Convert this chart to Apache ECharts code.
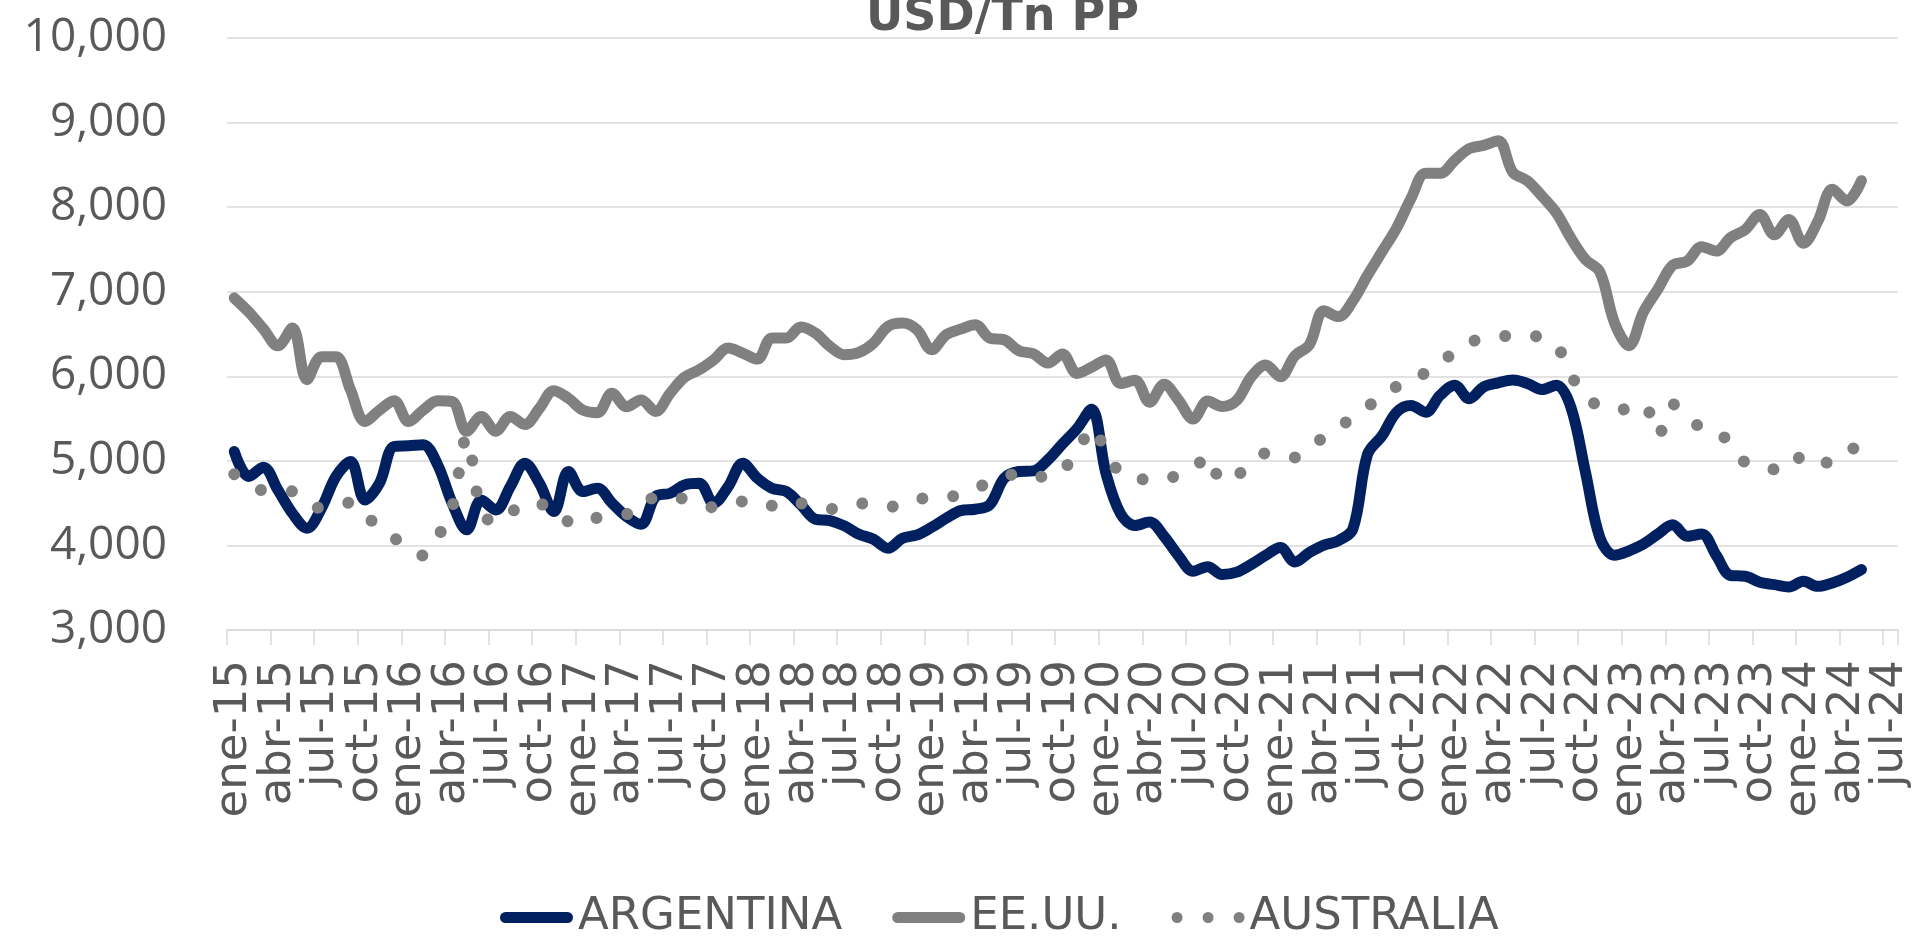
<!DOCTYPE html>
<html>
<head>
<meta charset="utf-8">
<script src="https://cdn.jsdelivr.net/npm/echarts@6/dist/echarts.min.js"></script>
<style>
html,body{margin:0;padding:0;background:#fff;}
#chart{width:1913px;height:936px;}
</style>
</head>
<body>
<div id="chart"></div>
<script>
// Month abbreviations and years used to build the category labels (ene-15 ... jul-24)
const MONTHS = ['ene','feb','mar','abr','may','jun','jul','ago','sep','oct','nov','dic'];
const YEARS = ['15','16','17','18','19','20','21','22','23','24'];
const LAST_MONTH_2024 = 7; // categories run through jul-24
const LABEL_EVERY = 3;      // a tick label every quarter

const categories = [];
YEARS.forEach(function (y, yi) {
  const n = (yi === YEARS.length - 1) ? LAST_MONTH_2024 : 12;
  for (let m = 0; m < n; m++) categories.push(MONTHS[m] + '-' + y);
});

// USD/Tn PP, monthly from ene-15 to may-24
const argentina = [
  5110,4815,4925,4657,4380,4203,4440,4815,4992,4538,4736,5170,
  5178,5190,4953,4500,4184,4538,4420,4696,4972,4736,4400,4874,
  4637,4676,4500,4341,4250,4578,4617,4716,4736,4500,4696,4972,
  4795,4677,4637,4480,4310,4294,4231,4132,4073,3966,4085,4124,
  4215,4321,4412,4428,4480,4795,4874,4882,5012,5200,5380,5610,
  4850,4376,4236,4276,4108,3876,3696,3748,3656,3684,3776,3884,
  3976,3804,3916,4004,4056,4196,5075,5295,5575,5655,5575,5775,
  5895,5735,5875,5923,5955,5915,5843,5895,5635,4870,4090,3884,
  3936,4016,4136,4244,4108,4136,3884,3644,3636,3564,3536,3508,
  3576,3516,3556,3624,3716
];
const eeuu = [
  6925,6760,6560,6360,6570,5960,6230,6230,5840,5465,5600,5710,
  5465,5600,5710,5700,5350,5525,5350,5525,5430,5620,5830,5740,
  5600,5570,5800,5640,5720,5584,5800,5990,6077,6195,6333,6274,
  6203,6452,6452,6582,6510,6353,6254,6282,6393,6590,6630,6550,
  6314,6491,6558,6610,6452,6432,6302,6266,6156,6264,6034,6106,
  6194,5914,5954,5694,5906,5715,5495,5707,5643,5715,5995,6134,
  5995,6242,6374,6774,6706,6894,7193,7473,7753,8105,8400,8400,
  8552,8692,8730,8784,8412,8313,8133,7933,7633,7381,7233,6634,
  6362,6762,7034,7313,7361,7533,7481,7641,7733,7913,7673,7853,
  7573,7833,8213,8073,8313
];
const australia = [
  4842,4740,4650,4645,4640,4540,4436,4470,4507,4330,4250,4090,
  3980,3880,4100,4450,5280,4400,4270,4380,4500,4490,4440,4280,
  4250,4330,4360,4370,4400,4580,4570,4550,4500,4450,4490,4520,
  4460,4470,4530,4500,4450,4430,4470,4500,4460,4450,4510,4555,
  4555,4560,4620,4680,4740,4800,4860,4850,4790,4900,5075,5395,
  5115,4850,4787,4780,4775,4840,4900,5060,4750,4830,4950,5090,
  5070,5040,5160,5280,5400,5510,5650,5720,5880,5990,6040,6200,
  6260,6400,6440,6470,6480,6490,6450,6370,6020,5750,5650,5600,
  5620,5670,5300,5670,5550,5380,5350,5200,4980,4920,4900,5050,
  5020,4930,5030,5140,5150
];

const TEXT = '#595959';
const GRID = '#d9d9d9';
const NAVY = '#002060';
const GREY = '#808080';
const FONT_Y = '"Open Sans", "DejaVu Sans", sans-serif';
const FONT_X = '"DejaVu Sans", sans-serif';

const BAR_ICON = 'path://M5.5,0 L67.5,0 A5.5,5.5 0 0 1 67.5,11 L5.5,11 A5.5,5.5 0 0 1 5.5,0 Z';
const DOT_ICON = 'path://M0,5.5a5.5,5.5 0 1,0 11,0a5.5,5.5 0 1,0 -11,0Z M31,5.5a5.5,5.5 0 1,0 11,0a5.5,5.5 0 1,0 -11,0Z M62,5.5a5.5,5.5 0 1,0 11,0a5.5,5.5 0 1,0 -11,0Z';

const chart = echarts.init(document.getElementById('chart'), null, {renderer: 'canvas'});
chart.setOption({
  animation: false,
  backgroundColor: '#ffffff',
  title: {
    text: 'USD/Tn PP',
    left: 866,
    top: -5,
    padding: 0,
    textStyle: {color: TEXT, fontFamily: FONT_X, fontSize: 46, fontWeight: 'bold'}
  },
  legend: {
    left: 500,
    top: 895,
    padding: 0,
    itemWidth: 73,
    itemHeight: 11,
    itemGap: 50,
    textStyle: {color: TEXT, fontFamily: FONT_X, fontSize: 45},
    data: [
      {name: 'ARGENTINA', icon: BAR_ICON, itemStyle: {color: NAVY}},
      {name: 'EE.UU.', icon: BAR_ICON, itemStyle: {color: GREY}},
      {name: 'AUSTRALIA', icon: DOT_ICON, itemStyle: {color: GREY}}
    ]
  },
  grid: {left: 227, right: 13, top: 38, bottom: 306, containLabel: false},
  xAxis: {
    type: 'category',
    data: categories,
    boundaryGap: true,
    axisLine: {lineStyle: {color: GRID, width: 1.5}},
    axisTick: {show: true, interval: LABEL_EVERY - 1, length: 15, lineStyle: {color: GRID, width: 1.5}},
    axisLabel: {
      interval: 0, rotate: 90, margin: 30, color: TEXT, fontFamily: FONT_X, fontSize: 45,
      showMinLabel: true, showMaxLabel: true, hideOverlap: false,
      formatter: function (v, i) { return (i % LABEL_EVERY === 0) ? v : ''; }
    },
    splitLine: {show: false}
  },
  yAxis: {
    type: 'value',
    min: 3000,
    max: 10000,
    interval: 1000,
    axisLine: {show: false},
    axisTick: {show: false},
    axisLabel: {
      margin: 60, color: TEXT, fontFamily: FONT_Y, fontSize: 46,
      formatter: function (v) { return v.toLocaleString('en-US'); }
    },
    splitLine: {lineStyle: {color: GRID, width: 1.5}}
  },
  series: [
    {
      name: 'ARGENTINA', type: 'line', data: argentina,
      smooth: 0.35, symbol: 'none', showSymbol: false,
      lineStyle: {color: NAVY, width: 11, cap: 'round', join: 'round'},
      itemStyle: {color: NAVY}
    },
    {
      name: 'EE.UU.', type: 'line', data: eeuu,
      smooth: 0.35, symbol: 'none', showSymbol: false,
      lineStyle: {color: GREY, width: 11, cap: 'round', join: 'round'},
      itemStyle: {color: GREY}
    },
    {
      name: 'AUSTRALIA', type: 'line', data: australia,
      smooth: 0.35, symbol: 'none', showSymbol: false,
      lineStyle: {color: GREY, width: 12, type: [0.01, 31], cap: 'round', join: 'round'},
      itemStyle: {color: GREY}
    }
  ]
});
</script>
</body>
</html>
